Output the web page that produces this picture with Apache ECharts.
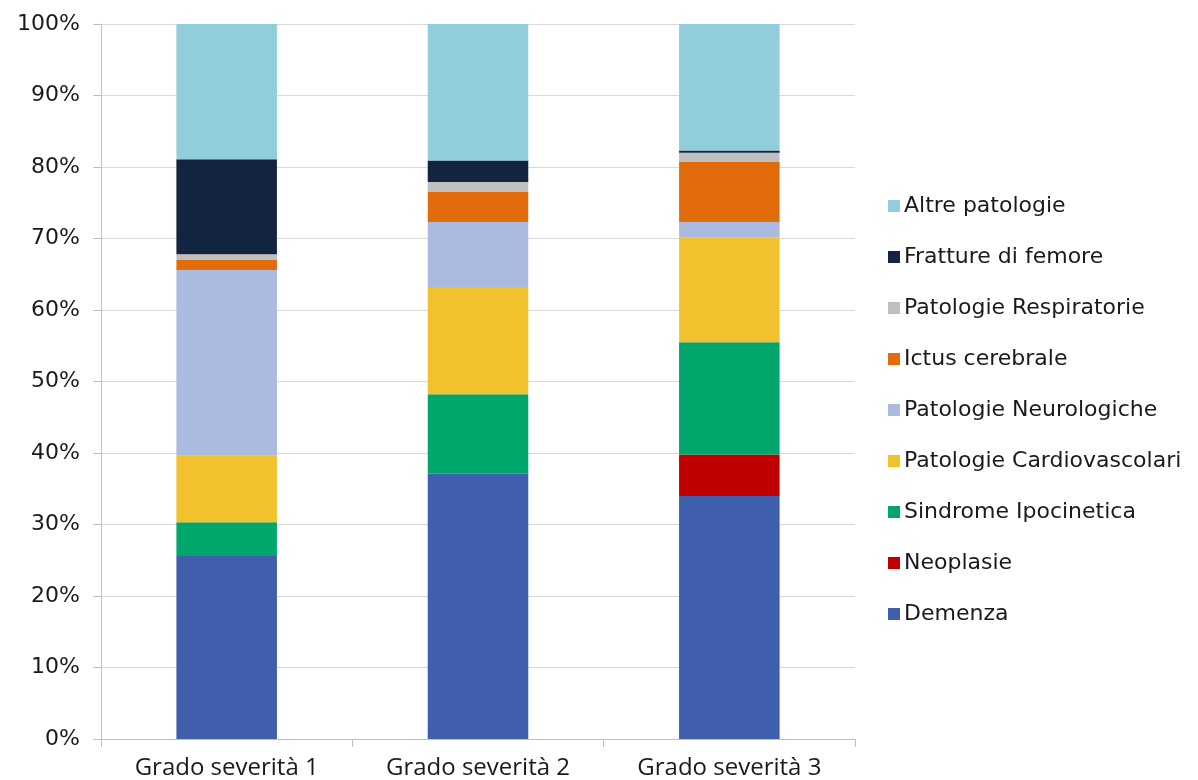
<!DOCTYPE html>
<html>
<head>
<meta charset="utf-8">
<script src="https://cdn.jsdelivr.net/npm/echarts@6/dist/echarts.min.js"></script>
<style>
  html, body { margin: 0; padding: 0; background: #fff; }
  #chart { width: 1198px; height: 780px; }
</style>
</head>
<body>
<div id="chart"></div>
<script>
const categories = ['Grado severità 1', 'Grado severità 2', 'Grado severità 3']

// series from bottom of the stack to top
const seriesNames = ['Demenza', 'Neoplasie', 'Sindrome Ipocinetica', 'Patologie Cardiovascolari',
  'Patologie Neurologiche', 'Ictus cerebrale', 'Patologie Respiratorie', 'Fratture di femore', 'Altre patologie']
const seriesColors = ['#3f5fad', '#c00000', '#00a66a', '#f2c12e',
  '#abbbdf', '#e36c0a', '#bfbfbf', '#12243f', '#92cddc']

const demenza = [25.6, 37.1, 34.0]
const neoplasie = [0, 0, 5.8]
const sindrome = [4.7, 11.1, 15.7]
const cardio = [9.3, 15.0, 14.6]
const neuro = [26.0, 9.1, 2.2]
const ictus = [1.4, 4.2, 8.4]
const respiratorie = [0.8, 1.4, 1.3]
const fratture = [13.3, 3.0, 0.3]
const altre = [18.9, 19.1, 17.7]

const seriesValues = [demenza, neoplasie, sindrome, cardio, neuro, ictus, respiratorie, fratture, altre]

const yTicks = [0, 10, 20, 30, 40, 50, 60, 70, 80, 90, 100]

const chart = echarts.init(document.getElementById('chart'))

const option = {
  animation: false,
  grid: {
    left: 101,
    right: 343,
    top: 24,
    bottom: 41,
    containLabel: false,
  },
  legend: {
    orient: 'vertical',
    left: 883,
    top: 189,
    data: seriesNames.slice().reverse(),
    icon: 'rect',
    itemWidth: 12,
    itemHeight: 12,
    itemGap: 27,
    textStyle: {
      fontFamily: 'DejaVu Sans',
      fontSize: 22,
      color: '#1a1a1a',
      lineHeight: 24,
      padding: [0, 0, 0, -1],
    },
  },
  xAxis: {
    type: 'category',
    data: categories,
    axisLine: { lineStyle: { color: '#bfbfbf', width: 1 } },
    axisTick: { show: true, length: 8, lineStyle: { color: '#bfbfbf' } },
    axisLabel: {
      margin: 17,
      fontFamily: 'Open Sans',
      fontSize: 24,
      color: '#1a1a1a',
    },
  },
  yAxis: {
    type: 'value',
    min: 0,
    max: 100,
    interval: 10,
    axisLine: { show: true, lineStyle: { color: '#bfbfbf', width: 1 } },
    axisTick: { show: true, length: 8, lineStyle: { color: '#bfbfbf' } },
    splitLine: { lineStyle: { color: '#d9d9d9', width: 1 } },
    axisLabel: {
      margin: 21,
      fontFamily: 'DejaVu Sans',
      fontSize: 22,
      color: '#1a1a1a',
      formatter: v => (yTicks.includes(v) ? v + '%' : ''),
    },
  },
  series: seriesNames.map((name, i) => ({
    name: name,
    type: 'bar',
    stack: 'total',
    barWidth: '40%',
    data: seriesValues[i],
    itemStyle: { color: seriesColors[i] },
  })),
}

chart.setOption(option)
</script>
</body>
</html>
